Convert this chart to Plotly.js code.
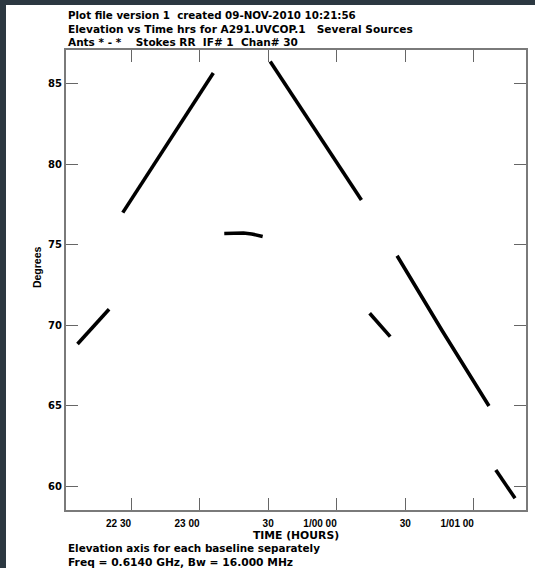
<!DOCTYPE html>
<html>
<head>
<meta charset="utf-8">
<script src="https://cdn.plot.ly/plotly-3.0.1.min.js"></script>
<style>
  html, body { margin: 0; padding: 0; width: 535px; height: 568px; overflow: hidden; background: #2c3841; }
  #chart { position: absolute; left: 6px; top: 5px; width: 529px; height: 563px; background: #ffffff; }
</style>
</head>
<body>
<div id="chart"></div>
<script>
// Elevation (degrees) against time (hours, 24 = midnight) for each source scan
const scan1Time = [22.11, 22.22, 22.34];
const scan1Elev = [68.83, 69.85, 70.99];
const scan2Time = [22.44, 22.77, 23.10];
const scan2Elev = [77.00, 81.34, 85.68];
const scan3Time = [23.18, 23.25, 23.32, 23.38, 23.46];
const scan3Elev = [75.70, 75.74, 75.73, 75.67, 75.52];
const scan4Time = [23.515, 23.85, 24.18];
const scan4Elev = [86.39, 82.07, 77.79];
const scan5Time = [24.24, 24.39];
const scan5Elev = [70.74, 69.29];
const scan6Time = [24.44, 24.77, 25.11];
const scan6Elev = [74.32, 69.64, 64.98];
const scan7Time = [25.16, 25.30];
const scan7Elev = [61.00, 59.24];

const xTickVals = [22.5, 23.0, 23.5, 24.0, 24.5, 25.0];
const xTickText = ['22 30', '23 00', '30', '1/00 00', '30', '1/01 00'];
const yTickVals = [60, 65, 70, 75, 80, 85];

const xRange = [22.026, 25.38];
const yRange = [58.51, 87.11];

const SANS = 'Liberation Sans, Arial, Helvetica, sans-serif';
const WIDE = 'DejaVu Sans, Verdana, sans-serif';
const INK = '#000000';

const scans = [
  [scan1Time, scan1Elev], [scan2Time, scan2Elev], [scan3Time, scan3Elev],
  [scan4Time, scan4Elev], [scan5Time, scan5Elev], [scan6Time, scan6Elev],
  [scan7Time, scan7Elev]
];

const traces = scans.map(([t, e], i) => ({
  x: t, y: e, type: 'scatter', mode: 'lines',
  xaxis: i === scans.length - 1 ? 'x2' : 'x',
  line: { color: INK, width: 3.6 },
  hoverinfo: 'skip', showlegend: false
}));

// Minutes-only labels sit centred on the tick; labels carrying the hour sit to its left
const minuteText = xTickText.map(s => (s.indexOf(' ') < 0 ? s : ''));
const hourVals = xTickVals.filter((v, i) => xTickText[i].indexOf(' ') >= 0);
const hourText = xTickText.filter(s => s.indexOf(' ') >= 0);

const tickFont = { family: SANS, size: 10, color: INK, weight: 700 };

const layout = {
  width: 529, height: 563,
  margin: { l: 60, r: 9, t: 45, b: 58, pad: 0 },
  paper_bgcolor: '#ffffff', plot_bgcolor: '#ffffff',
  showlegend: false,
  xaxis: {
    range: xRange, showgrid: false, zeroline: false,
    showline: true, linecolor: '#7a7a7a', linewidth: 2, mirror: 'ticks',
    ticks: 'inside', ticklen: 12, tickwidth: 1, tickcolor: '#666666',
    tickmode: 'array', tickvals: xTickVals, ticktext: minuteText,
    tickfont: tickFont, ticklabelstandoff: 3,
    title: { text: 'TIME (HOURS)', font: { family: WIDE, size: 10.8, color: INK, weight: 700 }, standoff: 1 }
  },
  xaxis2: {
    overlaying: 'x', anchor: 'y', side: 'bottom', matches: 'x',
    range: xRange, showgrid: false, zeroline: false, showline: false,
    ticks: '', tickmode: 'array', tickvals: hourVals, ticktext: hourText,
    ticklabelposition: 'outside left', tickfont: tickFont, ticklabelstandoff: 6
  },
  yaxis: {
    range: yRange, showgrid: false, zeroline: false,
    showline: true, linecolor: '#7a7a7a', linewidth: 2, mirror: 'ticks',
    ticks: 'inside', ticklen: 12, tickwidth: 1, tickcolor: '#666666',
    tickmode: 'array', tickvals: yTickVals,
    tickfont: { family: WIDE, size: 10, color: INK, weight: 700 }
  },
  annotations: [
    { text: 'Plot file version 1  created 09-NOV-2010 10:21:56', yshift: 35, size: 10.3 },
    { text: 'Elevation vs Time hrs for A291.UVCOP.1   Several Sources', yshift: 21.5, size: 10.6 },
    { text: 'Ants * - *    Stokes RR  IF# 1  Chan# 30', yshift: 8, size: 10.5 }
  ].map(a => ({
    text: a.text.replace(/ {2,}/g, m => '\u00a0'.repeat(m.length)),
    xref: 'paper', yref: 'paper', x: 0, y: 1, xanchor: 'left', yanchor: 'middle',
    yshift: a.yshift, showarrow: false,
    font: { family: WIDE, size: a.size, color: INK, weight: 700 }
  })).concat([
    { text: 'Elevation axis for each baseline separately', yshift: -38, size: 10.4 },
    { text: 'Freq = 0.6140 GHz, Bw = 16.000 MHz', yshift: -52, size: 10.7 }
  ].map(a => ({
    text: a.text, xref: 'paper', yref: 'paper', x: 0, y: 0,
    xanchor: 'left', yanchor: 'middle', yshift: a.yshift, showarrow: false,
    font: { family: WIDE, size: a.size, color: INK, weight: 700 }
  }))).concat([{
    text: 'Degrees', xref: 'paper', yref: 'paper', x: 0, y: 0.528,
    xanchor: 'center', yanchor: 'middle', xshift: -29, textangle: -90,
    showarrow: false, font: { family: SANS, size: 10.5, color: INK, weight: 700 }
  }])
};

Plotly.newPlot('chart', traces, layout, { staticPlot: true, displayModeBar: false });
</script>
</body>
</html>
